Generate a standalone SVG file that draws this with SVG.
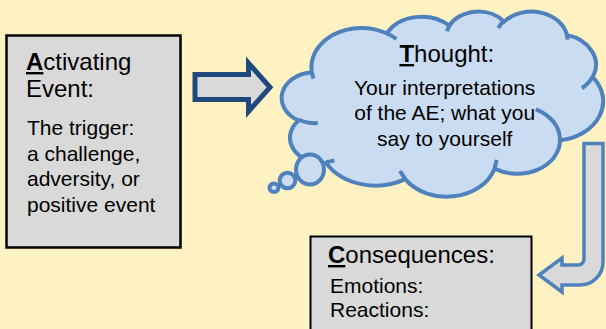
<svg xmlns="http://www.w3.org/2000/svg" width="606" height="329" viewBox="0 0 606 329">
<style>
.t{font-family:"Liberation Sans",Arial,sans-serif;fill:#000}
.h{font-size:24px}
.b{font-size:21px}
.k{font-weight:bold;text-decoration:underline}
.box{fill:#D9D9D9;stroke:#000}
.cloud{fill:#C9DCF1;stroke:#4F81BD;stroke-width:4}
.inner{fill:none;stroke:#4F81BD;stroke-width:4;stroke-linecap:butt}
.arrowA{fill:#D9D9D9;stroke:#1F497D;stroke-width:5;stroke-linejoin:miter}
.arrowB{fill:#D9D9D9;stroke:#4F81BD;stroke-width:3.5;stroke-linejoin:miter}
</style>
<rect x="0" y="0" width="606" height="329" fill="#FFF2C2"/>

<g id="node-activating">
<rect class="box" x="6.5" y="35.5" width="174" height="212" stroke-width="2.5"/>
<text class="t h" x="26" y="70"><tspan class="k">A</tspan>ctivating</text>
<text class="t h" x="26" y="97">Event:</text>
<text class="t b" x="27" y="135">The trigger:</text>
<text class="t b" x="27" y="160.5">a challenge,</text>
<text class="t b" x="27" y="186">adversity, or</text>
<text class="t b" x="27" y="211.5">positive event</text>
</g>

<g id="node-thought">
<path class="cloud" d="M311.89,72.54 A50.02,39.36 0 0 1 386.74,33.28 A39.5,31.12 0 0 1 449.35,25.7 A32.33,25.46 0 0 1 503.99,21.62 A35.98,28.24 0 0 1 566.84,34.87 A39.5,31.15 0 0 1 592.77,77.2 A50.19,39.48 0 0 1 560.08,140.35 A42.85,33.69 0 0 1 494.54,168.66 A50.01,39.46 0 0 1 405.1,179.16 A57.19,45.15 0 0 1 326.01,162.91 A32.3,25.34 0 0 1 298.67,120.42 A32.19,25.46 0 0 1 311.89,72.54 Z"/>
<ellipse class="cloud" cx="310" cy="169.5" rx="14" ry="15"/>
<ellipse class="cloud" cx="287.5" cy="180.5" rx="7.8" ry="7.8"/>
<ellipse class="cloud" cx="274" cy="187.8" rx="4.6" ry="4.2"/>
<path class="inner" d="M317.76,123.1 A32.19,25.46 0 0 1 299,119.69 M334.32,160.45 A32.3,25.34 0 0 1 326.11,162.08 M405.06,178.4 A50.01,39.46 0 0 1 400.1,170.94 M496.53,159.82 A50.01,39.46 0 0 1 494.56,168 M535.81,109.3 A42.85,33.69 0 0 1 559.89,139.86 M592.61,76.75 A39.5,31.15 0 0 1 581.88,88.22 M566.88,34.24 A35.98,28.24 0 0 1 567.44,39.65 M498.39,27.92 A35.98,28.24 0 0 1 503.89,21.02 M447.01,31.21 A32.33,25.46 0 0 1 449.67,25.26 M386.7,33.23 A50.02,39.36 0 0 1 396.33,39.01 M313.57,78.62 A50.02,39.36 0 0 1 311.89,72.54"/>
<text class="t h" x="446.8" y="62" text-anchor="middle"><tspan class="k">T</tspan>hought:</text>
<text class="t b" x="444.7" y="95" text-anchor="middle">Your interpretations</text>
<text class="t b" x="444.7" y="120" text-anchor="middle">of the AE; what you</text>
<text class="t b" x="444.7" y="145.5" text-anchor="middle">say to yourself</text>
</g>

<g id="node-consequences">
<rect class="box" x="310.5" y="236.5" width="221" height="120" stroke-width="2"/>
<text class="t h" x="328" y="263"><tspan class="k">C</tspan>onsequences:</text>
<text class="t b" x="330" y="292.5">Emotions:</text>
<text class="t b" x="330" y="317">Reactions:</text>
</g>

<g id="connectors">
<path class="arrowA" d="M195,74.5 L248.5,74.5 L248.5,63 L270,87.3 L248.5,111.5 L248.5,99.5 L195,99.5 Z"/>
<path class="arrowB" d="M584,143.5 L603,143.5 L603,262 A23,23 0 0 1 580,285 L562,285 L562,292 L539,275 L562,258 L562,265 L578,265 A6,6 0 0 0 584,259 Z"/>
</g>
</svg>
